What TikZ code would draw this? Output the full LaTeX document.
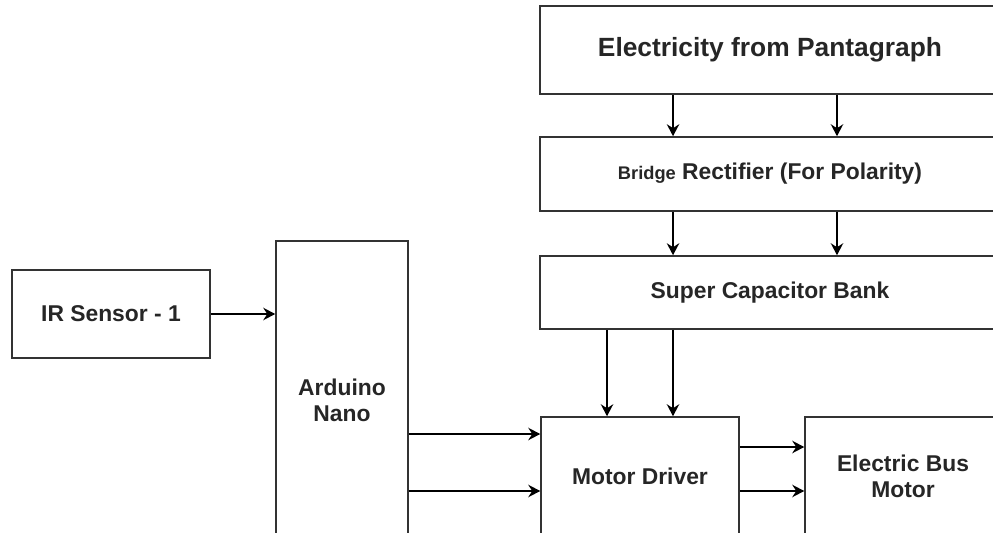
\documentclass[tikz,border=0pt]{standalone}
\usepackage{fontspec}
\setmainfont{Liberation Sans}
\usetikzlibrary{arrows.meta}

\begin{document}
\begin{tikzpicture}[x=0.02cm, y=-0.02cm, line width=0.9pt,
	blk/.style={draw=black!80, fill=white, inner sep=0pt, align=center, text=black!85, font=\fontsize{13}{14.7}\selectfont\bfseries},
	>={Stealth[length=2.4mm, width=2.5mm, inset=0.8mm]}]
	\clip (0,0) rectangle (993,533);
	\fill[white] (0,0) rectangle (993,533);
	% power chain
	\node[blk, minimum width=9.2cm, minimum height=1.76cm, font=\fontsize{15}{18}\selectfont\bfseries] (pant) at (770,50) {Electricity from Pantagraph};
	\node[blk, minimum width=9.2cm, minimum height=1.48cm] (rect) at (770,174) {{\fontsize{10.4}{12}\selectfont Bridge} Rectifier (For Polarity)};
	\node[blk, minimum width=9.2cm, minimum height=1.46cm] (supcap) at (770,292.5) {Super Capacitor Bank};
	% control side
	\node[blk, minimum width=3.96cm, minimum height=1.76cm] (ir) at (111,314) {IR Sensor - 1};
	\node[blk, minimum width=2.64cm, minimum height=6.36cm] (nano) at (342,400) {Arduino\\Nano};
	\node[blk, minimum width=3.96cm, minimum height=2.36cm] (driver) at (640,476) {Motor Driver};
	\node[blk, minimum width=3.92cm, minimum height=2.36cm] (motor) at (903,476) {Electric Bus\\Motor};
	% two lines between the power blocks
	\draw[->] ([xshift=-1.94cm]pant.south) -- ([xshift=-1.94cm]pant.south |- rect.north);
	\draw[->] ([xshift=1.34cm]pant.south) -- ([xshift=1.34cm]pant.south |- rect.north);
	\draw[->] ([xshift=-1.94cm]rect.south) -- ([xshift=-1.94cm]rect.south |- supcap.north);
	\draw[->] ([xshift=1.34cm]rect.south) -- ([xshift=1.34cm]rect.south |- supcap.north);
	\draw[->] ([xshift=-0.66cm]driver.north |- supcap.south) -- ([xshift=-0.66cm]driver.north);
	\draw[->] ([xshift=0.66cm]driver.north |- supcap.south) -- ([xshift=0.66cm]driver.north);
	% signals
	\draw[->] (ir.east) -- (ir.east -| nano.west);
	\draw[->] ([yshift=0.84cm]driver.west -| nano.east) -- ([yshift=0.84cm]driver.west);
	\draw[->] ([yshift=-0.3cm]driver.west -| nano.east) -- ([yshift=-0.3cm]driver.west);
	\draw[->] ([yshift=0.58cm]driver.east) -- ([yshift=0.58cm]driver.east -| motor.west);
	\draw[->] ([yshift=-0.3cm]driver.east) -- ([yshift=-0.3cm]driver.east -| motor.west);
\end{tikzpicture}
\end{document}
